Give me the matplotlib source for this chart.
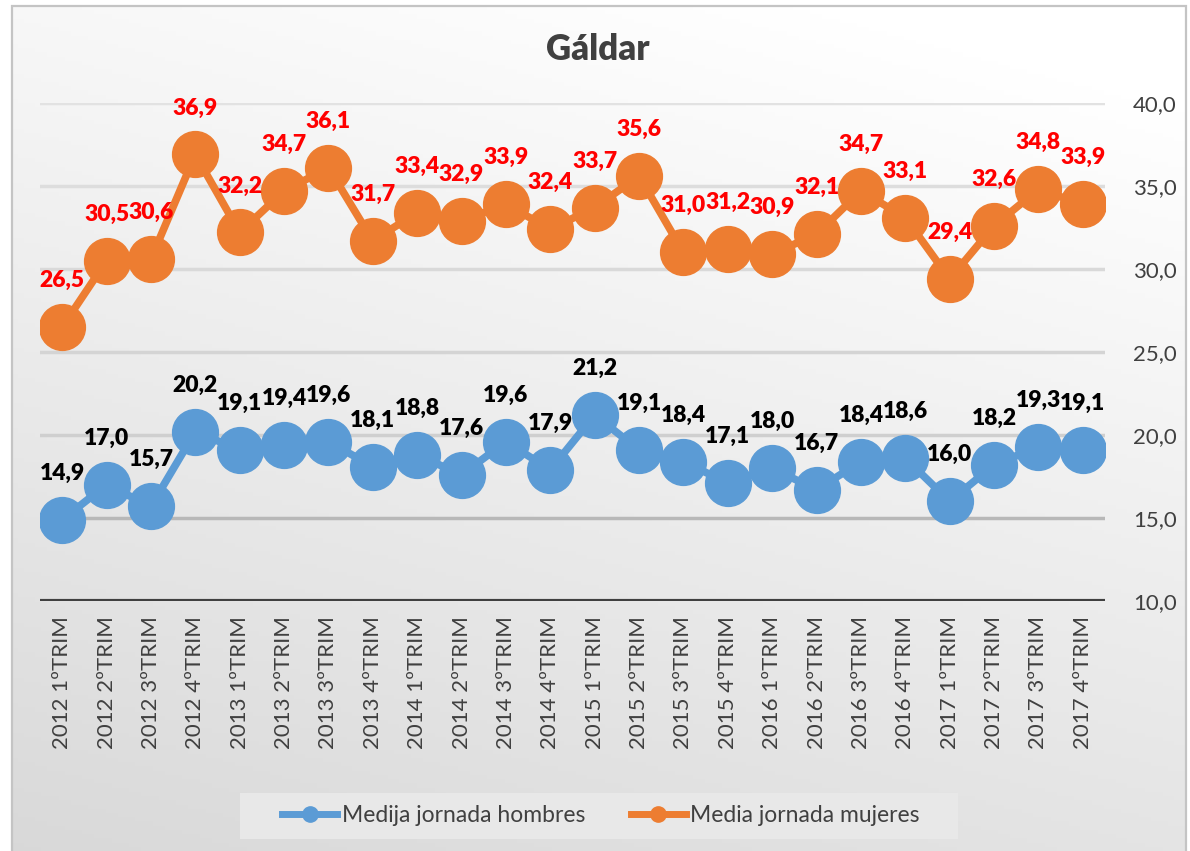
import numpy as np
import matplotlib
matplotlib.use("Agg")
import matplotlib.pyplot as plt
from matplotlib.lines import Line2D
from matplotlib.patches import Rectangle

categories = [
    "2012 1ºTRIM", "2012 2ºTRIM", "2012 3ºTRIM", "2012 4ºTRIM",
    "2013 1ºTRIM", "2013 2ºTRIM", "2013 3ºTRIM", "2013 4ºTRIM",
    "2014 1ºTRIM", "2014 2ºTRIM", "2014 3ºTRIM", "2014 4ºTRIM",
    "2015 1ºTRIM", "2015 2ºTRIM", "2015 3ºTRIM", "2015 4ºTRIM",
    "2016 1ºTRIM", "2016 2ºTRIM", "2016 3ºTRIM", "2016 4ºTRIM",
    "2017 1ºTRIM", "2017 2ºTRIM", "2017 3ºTRIM", "2017 4ºTRIM",
]
hombres = [14.9, 17.0, 15.7, 20.2, 19.1, 19.4, 19.6, 18.1, 18.8, 17.6, 19.6, 17.9,
           21.2, 19.1, 18.4, 17.1, 18.0, 16.7, 18.4, 18.6, 16.0, 18.2, 19.3, 19.1]
mujeres = [26.5, 30.5, 30.6, 36.9, 32.2, 34.7, 36.1, 31.7, 33.4, 32.9, 33.9, 32.4,
           33.7, 35.6, 31.0, 31.2, 30.9, 32.1, 34.7, 33.1, 29.4, 32.6, 34.8, 33.9]
yticks = [10, 15, 20, 25, 30, 35, 40]
title = "Gáldar"
series_names = ["Medija jornada hombres", "Media jornada mujeres"]

plt.rcParams['font.family'] = ['Lato', 'DejaVu Sans']

W, H = 1190, 851
fig = plt.figure(figsize=(W / 100, H / 100), dpi=100)
fig.patch.set_facecolor("white")

# background gradient of chart area
x0, x1 = 12 / W, 1186 / W
bg = fig.add_axes([x0, 0, x1 - x0, 1 - 6 / H], zorder=-10)
gy, gx = np.mgrid[0:1:200j, 0:1:200j]
t = np.clip(0.8 * gy + 0.3 * (1 - gx) - 0.1, 0, 1)
val = 1 - 0.15 * t
img = np.dstack([val, val, val])
bg.imshow(img, aspect="auto", extent=[0, 1, 0, 1], origin="upper")
bg.set_axis_off()
fig.add_artist(Rectangle((x0, -0.01), x1 - x0, 1 - 6 / H + 0.01, transform=fig.transFigure,
                         fill=False, edgecolor="#c4c4c4", linewidth=1.6, zorder=5))

ax_l, ax_r = 40 / W, 1105 / W
ax_b, ax_t = (H - 601) / H, (H - 103) / H
ax = fig.add_axes([ax_l, ax_b, ax_r - ax_l, ax_t - ax_b])
ax.patch.set_alpha(0)

n = len(categories)
x = np.arange(n)
ax.set_xlim(-0.5, n - 0.5)
ax.set_ylim(10, 40)

grid_colors = {15: "#b8b8b8", 20: "#cfcfcf", 25: "#d4d4d4", 30: "#d9d9d9", 35: "#dddddd", 40: "#e2e2e2"}
for yv in yticks[1:]:
    ax.axhline(yv, color=grid_colors[yv], linewidth=2.5, zorder=1)
ax.axhline(10, color="#404040", linewidth=3, zorder=2)

blue = "#5b9bd5"
orange = "#ed7d31"
ax.plot(x, hombres, color=blue, linewidth=5.5, marker="o", markersize=33, zorder=3,
        solid_capstyle="round")
ax.plot(x, mujeres, color=orange, linewidth=5.5, marker="o", markersize=33, zorder=3,
        solid_capstyle="round")

def fmt(v):
    return f"{v:.1f}".replace(".", ",")

for xi, v in zip(x, hombres):
    ax.annotate(fmt(v), (xi, v), xytext=(0, 33.5), textcoords="offset points",
                ha="center", va="center", fontsize=16.5, fontweight="heavy", color="black", zorder=6)
for xi, v in zip(x, mujeres):
    ax.annotate(fmt(v), (xi, v), xytext=(0, 33.5), textcoords="offset points",
                ha="center", va="center", fontsize=16.5, fontweight="heavy", color="#ff0000", zorder=6)

for s in ax.spines.values():
    s.set_visible(False)

ax.set_xticks(x)
ax.set_xticklabels(categories, rotation=90, fontsize=16, color="#404040")
ax.tick_params(axis="x", length=0, pad=11)

ax.yaxis.tick_right()
ax.set_yticks(yticks)
ax.set_yticklabels([fmt(v) for v in yticks], fontsize=16, color="#404040")
ax.tick_params(axis="y", length=0, pad=20)

fig.text(598 / W, 1 - 50 / H, title, ha="center", va="center", fontsize=25,
         fontweight="heavy", color="#404040")

# legend box
fig.add_artist(Rectangle((240 / W, 1 - 839 / H), (958 - 240) / W, 46 / H,
                         transform=fig.transFigure, facecolor="#e8e8e8",
                         edgecolor="none", zorder=4))
handles = [
    Line2D([], [], color=blue, linewidth=5, marker="o", markersize=11),
    Line2D([], [], color=orange, linewidth=5, marker="o", markersize=11),
]
leg = fig.legend(handles, series_names, loc="center", bbox_to_anchor=(601 / W, 1 - 816 / H),
                 ncol=2, fontsize=16.5, frameon=False, handlelength=2.4,
                 columnspacing=2.0, handletextpad=0.2, borderpad=0.3)
leg.set_zorder(6)
for txt in leg.get_texts():
    txt.set_color("#404040")

fig.savefig("out.png", dpi=100)
